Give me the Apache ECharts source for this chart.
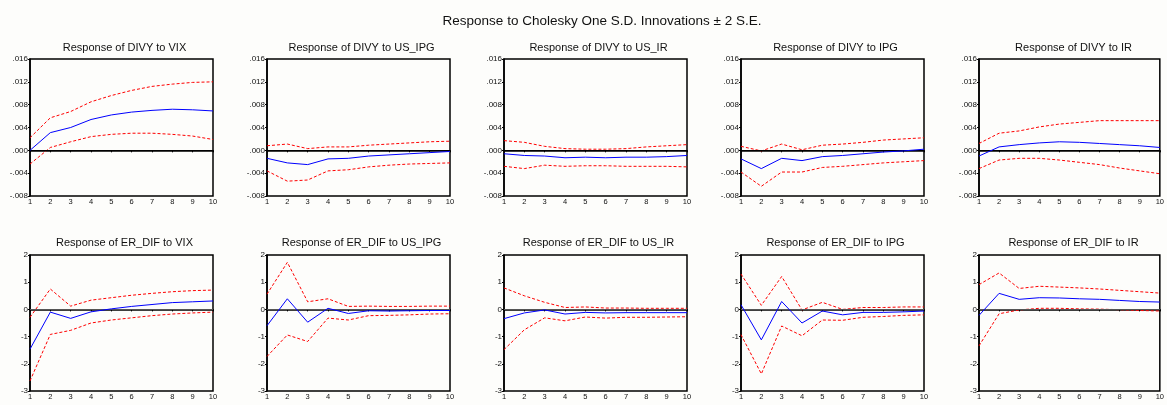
<!DOCTYPE html>
<html>
<head>
<meta charset="utf-8">
<script src="https://cdn.jsdelivr.net/npm/echarts@6/dist/echarts.min.js"></script>
<style>
  html, body { margin: 0; padding: 0; background: #fdfdfb; }
  #main { width: 1167px; height: 405px; }
</style>
</head>
<body>
<div id="main"></div>
<script>
// periods
const periods = ['1', '2', '3', '4', '5', '6', '7', '8', '9', '10'];

// row 1: DIVY responses
const divyVix     = [0.0000, 0.0031, 0.0040, 0.0054, 0.0062, 0.0067, 0.0070, 0.0072, 0.0071, 0.0069];
const divyVixHi   = [0.0022, 0.0057, 0.0068, 0.0085, 0.0096, 0.0105, 0.0112, 0.0116, 0.0119, 0.0120];
const divyVixLo   = [-0.0024, 0.0005, 0.0015, 0.0024, 0.0028, 0.0030, 0.0030, 0.0028, 0.0025, 0.0019];

const divyUsIpg   = [-0.0014, -0.0022, -0.0025, -0.0015, -0.0014, -0.0010, -0.0008, -0.0006, -0.0004, -0.0002];
const divyUsIpgHi = [0.0008, 0.0011, 0.0003, 0.0006, 0.0006, 0.0009, 0.0011, 0.0013, 0.0015, 0.0016];
const divyUsIpgLo = [-0.0036, -0.0054, -0.0052, -0.0036, -0.0034, -0.0029, -0.0026, -0.0024, -0.0023, -0.0022];

const divyUsIr    = [-0.0006, -0.0009, -0.0010, -0.0013, -0.0012, -0.0013, -0.0012, -0.0012, -0.0011, -0.0009];
const divyUsIrHi  = [0.0017, 0.0014, 0.0007, 0.0003, 0.0002, 0.0002, 0.0003, 0.0006, 0.0008, 0.0010];
const divyUsIrLo  = [-0.0028, -0.0032, -0.0026, -0.0028, -0.0027, -0.0027, -0.0028, -0.0028, -0.0028, -0.0029];

const divyIpg     = [-0.0015, -0.0032, -0.0014, -0.0018, -0.0011, -0.0009, -0.0006, -0.0003, -0.0001, 0.0002];
const divyIpgHi   = [0.0007, -0.0001, 0.0011, 0.0001, 0.0009, 0.0011, 0.0014, 0.0018, 0.0020, 0.0022];
const divyIpgLo   = [-0.0038, -0.0063, -0.0038, -0.0038, -0.0030, -0.0028, -0.0025, -0.0022, -0.0020, -0.0018];

const divyIr      = [-0.0010, 0.0006, 0.0010, 0.0013, 0.0015, 0.0014, 0.0012, 0.0010, 0.0008, 0.0005];
const divyIrHi    = [0.0012, 0.0030, 0.0034, 0.0041, 0.0046, 0.0049, 0.0052, 0.0052, 0.0052, 0.0052];
const divyIrLo    = [-0.0032, -0.0017, -0.0014, -0.0014, -0.0017, -0.0021, -0.0025, -0.0031, -0.0036, -0.0041];

// row 2: ER_DIF responses
const erVix       = [-1.46, -0.10, -0.33, -0.09, 0.02, 0.11, 0.18, 0.25, 0.28, 0.31];
const erVixHi     = [-0.29, 0.75, 0.12, 0.34, 0.43, 0.52, 0.59, 0.65, 0.69, 0.71];
const erVixLo     = [-2.63, -0.92, -0.77, -0.50, -0.39, -0.31, -0.23, -0.17, -0.13, -0.10];

const erUsIpg     = [-0.60, 0.39, -0.47, 0.04, -0.15, -0.05, -0.06, -0.05, -0.04, -0.04];
const erUsIpgHi   = [0.56, 1.73, 0.28, 0.39, 0.11, 0.12, 0.11, 0.11, 0.12, 0.12];
const erUsIpgLo   = [-1.73, -0.94, -1.18, -0.32, -0.39, -0.23, -0.22, -0.20, -0.17, -0.16];

const erUsIr      = [-0.34, -0.13, -0.02, -0.17, -0.11, -0.13, -0.12, -0.12, -0.12, -0.12];
const erUsIrHi    = [0.79, 0.50, 0.26, 0.07, 0.09, 0.05, 0.05, 0.04, 0.04, 0.04];
const erUsIrLo    = [-1.48, -0.75, -0.31, -0.42, -0.28, -0.32, -0.29, -0.29, -0.28, -0.27];

const erIpg       = [0.17, -1.12, 0.29, -0.50, -0.06, -0.20, -0.11, -0.11, -0.09, -0.06];
const erIpgHi     = [1.30, 0.15, 1.21, -0.02, 0.26, 0.00, 0.07, 0.07, 0.09, 0.09];
const erIpgLo     = [-0.93, -2.37, -0.61, -0.97, -0.39, -0.40, -0.29, -0.26, -0.22, -0.20];

const erIr        = [-0.22, 0.59, 0.37, 0.43, 0.42, 0.39, 0.37, 0.33, 0.29, 0.27];
const erIrHi      = [0.91, 1.34, 0.77, 0.85, 0.82, 0.79, 0.75, 0.70, 0.65, 0.60];
const erIrLo      = [-1.34, -0.16, -0.02, 0.04, 0.04, 0.02, 0.01, -0.01, -0.04, -0.06];

const panelTitles = [
  'Response of DIVY to VIX', 'Response of DIVY to US_IPG', 'Response of DIVY to US_IR',
  'Response of DIVY to IPG', 'Response of DIVY to IR',
  'Response of ER_DIF to VIX', 'Response of ER_DIF to US_IPG', 'Response of ER_DIF to US_IR',
  'Response of ER_DIF to IPG', 'Response of ER_DIF to IR'
];
const panelData = [
  [divyVix, divyVixHi, divyVixLo], [divyUsIpg, divyUsIpgHi, divyUsIpgLo],
  [divyUsIr, divyUsIrHi, divyUsIrLo], [divyIpg, divyIpgHi, divyIpgLo],
  [divyIr, divyIrHi, divyIrLo],
  [erVix, erVixHi, erVixLo], [erUsIpg, erUsIpgHi, erUsIpgLo],
  [erUsIr, erUsIrHi, erUsIrLo], [erIpg, erIpgHi, erIpgLo],
  [erIr, erIrHi, erIrLo]
];

const lefts = [30, 267, 504, 741, 979];
const plotW = 183;
const font = 'Liberation Sans, Arial, sans-serif';

const chart = echarts.init(document.getElementById('main'));

const grids = [], xAxes = [], yAxes = [], series = [];
const titles = [{
  text: 'Response to Cholesky One S.D. Innovations \u00b1 2 S.E.',
  left: 597, top: 9, textAlign: 'center',
  textStyle: { fontFamily: font, fontSize: 13.5, fontWeight: 'normal', color: '#111' }
}];

function fmtDivy(v) {
  let s = v.toFixed(3);
  return s.replace(/^(-?)0\./, '$1.');
}

panelData.forEach((d, i) => {
  const row = i < 5 ? 0 : 1;
  const col = i % 5;
  const left = lefts[col];
  const top = row === 0 ? 59 : 255;
  const h = row === 0 ? 137 : 136;

  titles.push({
    text: panelTitles[i],
    left: left + plotW / 2 - 2, top: row === 0 ? 37 : 232, textAlign: 'center',
    textStyle: { fontFamily: font, fontSize: 11, fontWeight: 'normal', color: '#111' }
  });

  grids.push({
    left: left, top: top, width: plotW, height: h,
    show: true, borderColor: '#000', borderWidth: 1.5, backgroundColor: 'transparent'
  });

  xAxes.push({
    type: 'category', gridIndex: i, data: periods, boundaryGap: false,
    axisLine: { lineStyle: { color: '#000', width: 1.5 } },
    axisTick: { length: 2, alignWithLabel: true, lineStyle: { color: '#000' } },
    axisLabel: { fontFamily: font, fontSize: 7.5, color: '#111', margin: 2, interval: 0 },
    splitLine: { show: false }
  });

  yAxes.push(row === 0 ? {
    type: 'value', gridIndex: i, min: -0.008, max: 0.016, interval: 0.004,
    axisLine: { show: true, lineStyle: { color: '#000', width: 1.5 } },
    axisTick: { show: true, length: 2, lineStyle: { color: '#000' } },
    axisLabel: { fontFamily: font, fontSize: 8, color: '#111', margin: 2, formatter: fmtDivy },
    splitLine: { show: false }
  } : {
    type: 'value', gridIndex: i, min: -3, max: 2, interval: 1,
    axisLine: { show: true, lineStyle: { color: '#000', width: 1.5 } },
    axisTick: { show: true, length: 2, lineStyle: { color: '#000' } },
    axisLabel: { fontFamily: font, fontSize: 8, color: '#111', margin: 2 },
    splitLine: { show: false }
  });

  const zeroColor = row === 0 ? '#000' : '#555';
  series.push({
    type: 'line', xAxisIndex: i, yAxisIndex: i, data: d[0],
    symbol: 'none', lineStyle: { color: '#0000ff', width: 1 }, z: 5,
    markLine: {
      silent: true, symbol: 'none', label: { show: false },
      lineStyle: { color: zeroColor, type: 'solid', width: 1 },
      data: [{ yAxis: 0 }]
    }
  });
  series.push({
    type: 'line', xAxisIndex: i, yAxisIndex: i, data: d[1],
    symbol: 'none', lineStyle: { color: '#ff0000', width: 1, type: [3, 2] }, z: 4
  });
  series.push({
    type: 'line', xAxisIndex: i, yAxisIndex: i, data: d[2],
    symbol: 'none', lineStyle: { color: '#ff0000', width: 1, type: [3, 2] }, z: 4
  });
});

chart.setOption({
  backgroundColor: '#fdfdfb',
  animation: false,
  title: titles,
  grid: grids,
  xAxis: xAxes,
  yAxis: yAxes,
  series: series
});
</script>
</body>
</html>
